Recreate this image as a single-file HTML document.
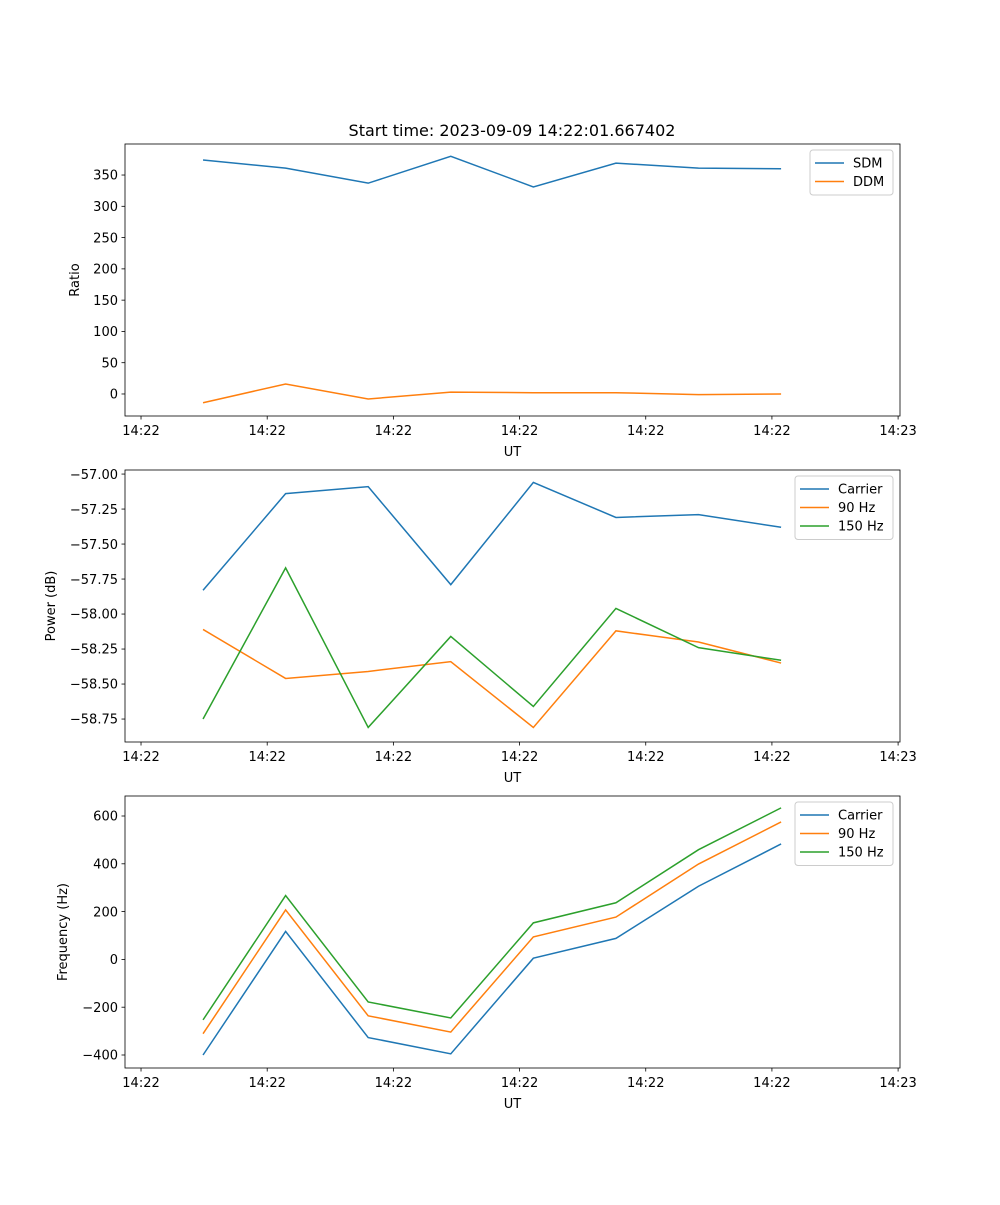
<!DOCTYPE html>
<html><head><meta charset="utf-8"><style>
body{margin:0;background:#fff;font-family:"Liberation Sans","DejaVu Sans",sans-serif;}
svg text{font-family:"DejaVu Sans","Liberation Sans",sans-serif;font-size:13px;fill:#000;}
</style></head><body>
<svg id="chart" width="1000" height="1200" xmlns="http://www.w3.org/2000/svg">
<text x="512" y="136" text-anchor="middle" style="font-size:16px">Start time: 2023-09-09 14:22:01.667402</text>
</svg>
<script>
const xIndex = [0,1,2,3,4,5,6,7];
const xTickLabels = ["14:22","14:22","14:22","14:22","14:22","14:22","14:23"];
const xTickIdx = [-0.751,0.777,2.305,3.833,5.361,6.889,8.417];

const ratioSeriesNames = ["SDM","DDM"];
const sdm = [374,361,337,380,331,369,361,360];
const ddm = [-14,16,-8,3,2,2,-1,0];
const ratioTicks = [0,50,100,150,200,250,300,350];

const powerSeriesNames = ["Carrier","90 Hz","150 Hz"];
const powerCarrier = [-57.83,-57.14,-57.09,-57.79,-57.06,-57.31,-57.29,-57.38];
const power90 = [-58.11,-58.46,-58.41,-58.34,-58.81,-58.12,-58.20,-58.35];
const power150 = [-58.75,-57.67,-58.81,-58.16,-58.66,-57.96,-58.24,-58.33];
const powerTicks = [-57.00,-57.25,-57.50,-57.75,-58.00,-58.25,-58.50,-58.75];

const freqSeriesNames = ["Carrier","90 Hz","150 Hz"];
const freqCarrier = [-400,117,-327,-395,5,88,306,483];
const freq90 = [-311,207,-236,-304,94,177,399,575];
const freq150 = [-253,267,-178,-245,153,237,459,634];
const freqTicks = [-400,-200,0,200,400,600];

const colors = ["#1f77b4","#ff7f0e","#2ca02c"];
const NS = "http://www.w3.org/2000/svg";
const svg = document.getElementById("chart");
function el(tag, attrs, parent){const e=document.createElementNS(NS,tag);for(const k in attrs)e.setAttribute(k,attrs[k]);(parent||svg).appendChild(e);return e;}

const L=125,R=900,xMin=-0.945,xMax=8.44;
const xs = v => L+(v-xMin)/(xMax-xMin)*(R-L);

function panel(name, top, yMin, yMax, ticks, fmt, ylabel, series, names, legendW){
  const bot=top+272;
  const ys = v => bot-(v-yMin)/(yMax-yMin)*(bot-top);
  const g = el("g",{});
  
  
  series.forEach((s,si)=>{
    const p = el("polyline",{points:s.map((v,i)=>xs(xIndex[i])+","+ys(v)).join(" "),fill:"none",stroke:colors[si],"stroke-width":1.5},g);
    
    
  });
  const frame = el("rect",{x:L,y:top,width:R-L,height:bot-top,fill:"none",stroke:"#000","stroke-width":0.8},g);
  
  
  ticks.forEach(t=>{
    const y=ys(t);
    el("line",{x1:L-3.5,x2:L,y1:y,y2:y,stroke:"#000","stroke-width":0.8},g);
    const tx=el("text",{x:L-7,y:y+4.7,"text-anchor":"end"},g);tx.textContent=fmt(t);
    
    
  });
  xTickIdx.forEach((t,i)=>{
    const x=xs(t);
    el("line",{x1:x,x2:x,y1:bot,y2:bot+3.5,stroke:"#000","stroke-width":0.8},g);
    const tx=el("text",{x:x,y:bot+19,"text-anchor":"middle"},g);tx.textContent=xTickLabels[i];
    
    
  });
  const xl=el("text",{x:(L+R)/2,y:bot+40,"text-anchor":"middle"},g);xl.textContent="UT";
  
  
  const yx = name==="ratio"?79:(name==="power"?55:67);
  const yl=el("text",{x:yx,y:(top+bot)/2,"text-anchor":"middle",transform:`rotate(-90 ${yx} ${(top+bot)/2})`},g);yl.textContent=ylabel;
  
  
  const lx=R-7-legendW, ly=top+6, lh=8+names.length*18.5;
  const lg=el("g",{},g);
  
  
  el("rect",{x:lx,y:ly,width:legendW,height:lh,rx:3,fill:"#fff","fill-opacity":0.8,stroke:"#ccc","stroke-width":1},lg);
  names.forEach((n,i)=>{
    const y=ly+13+i*18.5;
    el("line",{x1:lx+5,x2:lx+34,y1:y,y2:y,stroke:colors[i],"stroke-width":1.5},lg);
    const t=el("text",{x:lx+43,y:y+4.7},lg);t.textContent=n;
    
    
  });
}
panel("ratio",144,-35.2,399.6,ratioTicks,v=>String(v),"Ratio",[sdm,ddm],ratioSeriesNames,83);
panel("power",470,-58.914,-56.971,powerTicks,v=>(v<0?"\u2212":"")+Math.abs(v).toFixed(2),"Power (dB)",[powerCarrier,power90,power150],powerSeriesNames,98);
panel("freq",796,-454.4,683.7,freqTicks,v=>(v<0?"\u2212":"")+Math.abs(v),"Frequency (Hz)",[freqCarrier,freq90,freq150],freqSeriesNames,98);
</script>
</body></html>
